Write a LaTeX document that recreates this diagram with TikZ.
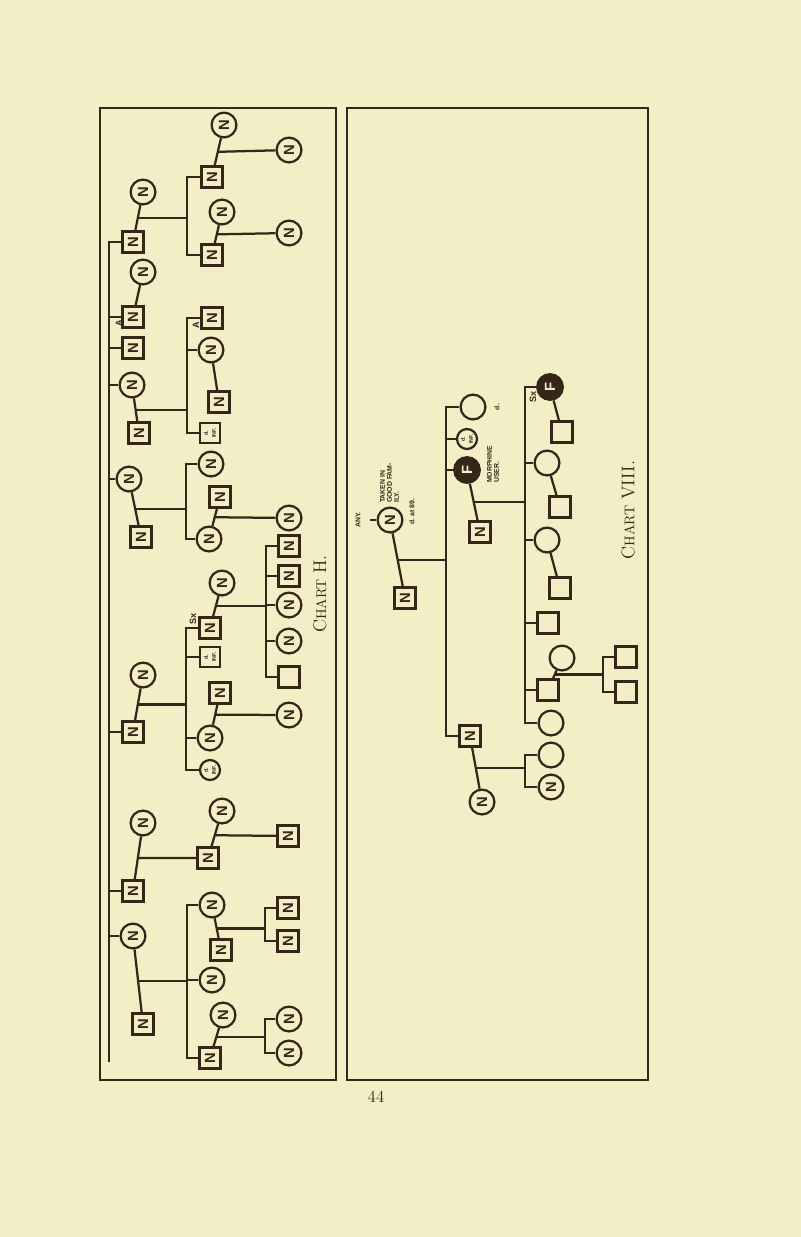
\documentclass[tikz,border=0pt]{standalone}
\usepackage{fontspec}
\setsansfont{Liberation Sans}
\usepackage{graphicx}
\usepackage{tikz}
\definecolor{paper}{HTML}{F2EFC6}
\definecolor{ink}{HTML}{36261A}
\newcommand{\nfont}{\sffamily\bfseries\fontsize{10.5}{10.5}\selectfont}
\newcommand{\tagfont}{\sffamily\bfseries\fontsize{6.5}{6.5}\selectfont}
\newcommand{\notefont}{\sffamily\bfseries\fontsize{4.9}{5}\selectfont}
\newcommand{\inffont}{\sffamily\bfseries\fontsize{3.8}{4}\selectfont}
\newcommand{\titlefont}{\rmfamily\fontsize{13}{13}\selectfont}
\newcommand{\capfont}{\fontsize{10}{10}\selectfont}
\newcommand{\nmark}{\rotatebox{90}{N}}
\newcommand{\fmark}{\rotatebox{90}{F}}
\newcommand{\dinf}{\rotatebox{90}{\shortstack{d.\\INF.}}}

\begin{document}
\begin{tikzpicture}[
    x=0.025cm, y=-0.025cm,
    line width=1.6pt, color=ink,
    male/.style={rectangle, draw, minimum size=0.52cm, inner sep=0pt, font=\nfont},
    female/.style={circle, draw, minimum size=0.62cm, inner sep=0pt, font=\nfont},
    infantf/.style={circle, draw, minimum size=0.5cm, inner sep=0pt, font=\inffont},
    infantm/.style={rectangle, draw, minimum size=0.5cm, inner sep=0pt, font=\inffont},
    affected/.style={circle, draw, fill=ink, text=paper, minimum size=0.64cm, inner sep=0pt, font=\nfont},
    tag/.style={rotate=90, inner sep=0pt, font=\tagfont},
    note/.style={rotate=90, inner sep=0pt, align=left, font=\notefont},
    title/.style={rotate=90, inner sep=0pt, font=\titlefont},
  ]

  % Page
  \fill[paper] (0,0) rectangle (801,1237);
  \draw (100,108) rectangle (336,1080);
  \draw (347,108) rectangle (648,1080);
  \node[font=\rmfamily\fontsize{12}{12}\selectfont] (pnum) at (376,1097) {44};

  % ---------------- Chart H ----------------
  \coordinate (hx) at (109,0);
  \coordinate (hend) at (109,1062);

  % first son and his family
  \node[male] (hA) at (133,242) {\nmark};
  \node[female] (hAw) at (143,192) {\nmark};
  \draw (hAw) -- (hA) coordinate[midway] (hAm);
  \coordinate (hAx) at (187,0);
  \node[male] (hA1) at (212,177) {\nmark};
  \node[female] (hA1w) at (224,125) {\nmark};
  \node[female] (hA1c) at (289,150) {\nmark};
  \draw (hA1w) -- (hA1) coordinate[midway] (hA1m);
  \draw (hA1m) -- (hA1c);
  \node[male] (hA2) at (212,255) {\nmark};
  \node[female] (hA2w) at (222,212) {\nmark};
  \node[female] (hA2c) at (289,233) {\nmark};
  \draw (hA2w) -- (hA2) coordinate[midway] (hA2m);
  \draw (hA2m) -- (hA2c);
  \draw (hAm) -- (hAm -| hAx);
  \draw (hA1) -- (hA1 -| hAx) -- (hA2 -| hAx) -- (hA2);

  % second and third sons
  \node[male] (hB) at (133,317) {\nmark};
  \node[female] (hBw) at (143,272) {\nmark};
  \draw (hBw) -- (hB);
  \node[tag] (hBa) at (119,323) {A};
  \node[male] (hC) at (133,348) {\nmark};

  % daughter and her family
  \node[female] (hD) at (132,385) {\nmark};
  \node[male] (hDh) at (139,433) {\nmark};
  \draw (hD) -- (hDh) coordinate[midway] (hDm);
  \coordinate (hDx) at (187,0);
  \node[male] (hD1) at (212,318) {\nmark};
  \node[tag] (hD1a) at (196,325) {A};
  \node[female] (hD2) at (211,350) {\nmark};
  \node[male] (hD2h) at (219,402) {\nmark};
  \draw (hD2) -- (hD2h);
  \node[infantm] (hD3) at (210,433) {\dinf};
  \draw (hDm) -- (hDm -| hDx);
  \draw (hD1) -- (hD1 -| hDx) -- (hD3 -| hDx) -- (hD3);
  \draw (hD2) -- (hD2 -| hDx);

  % second daughter
  \node[female] (hE) at (129,479) {\nmark};
  \node[male] (hEh) at (141,537) {\nmark};
  \draw (hE) -- (hEh) coordinate[midway] (hEm);
  \coordinate (hEx) at (186,0);
  \node[female] (hE1) at (211,464) {\nmark};
  \node[female] (hE2) at (209,539) {\nmark};
  \node[male] (hE2h) at (220,497) {\nmark};
  \node[female] (hE2c) at (289,518) {\nmark};
  \draw (hE2h) -- (hE2) coordinate[midway] (hE2m);
  \draw (hE2m) -- (hE2c);
  \draw (hEm) -- (hEm -| hEx);
  \draw (hE1) -- (hE1 -| hEx) -- (hE2 -| hEx) -- (hE2);

  % fourth son and his family
  \node[male] (hF) at (133,732) {\nmark};
  \node[female] (hFw) at (143,675) {\nmark};
  \draw (hFw) -- (hF) coordinate[midway] (hFm);
  \coordinate (hFx) at (186,0);
  \node[male] (hF1) at (210,628) {\nmark};
  \node[tag] (hF1s) at (193,619) {Sx};
  \node[female] (hF1w) at (222,583) {\nmark};
  \draw (hF1w) -- (hF1) coordinate[midway] (hF1m);
  \coordinate (hF1x) at (266,0);
  \node[male] (hF1a) at (289,546) {\nmark};
  \node[male] (hF1b) at (289,576) {\nmark};
  \node[female] (hF1c) at (289,605) {\nmark};
  \node[female] (hF1d) at (289,641) {\nmark};
  \node[male] (hF1e) at (289,677) {};
  \draw (hF1m) -- (hF1m -| hF1x);
  \draw (hF1a) -- (hF1a -| hF1x) -- (hF1e -| hF1x) -- (hF1e);
  \foreach \k in {hF1b,hF1c,hF1d}
    \draw (\k) -- (\k -| hF1x);
  \node[infantm] (hF2) at (210,657) {\dinf};
  \node[female] (hF3) at (210,738) {\nmark};
  \node[male] (hF3h) at (220,693) {\nmark};
  \node[female] (hF3c) at (289,715) {\nmark};
  \draw (hF3h) -- (hF3) coordinate[midway] (hF3m);
  \draw (hF3m) -- (hF3c);
  \node[infantf] (hF4) at (210,770) {\dinf};
  \draw (hFm) -- (hFm -| hFx);
  \draw (hF1) -- (hF1 -| hFx) -- (hF4 -| hFx) -- (hF4);
  \foreach \k in {hF2,hF3}
    \draw (\k) -- (\k -| hFx);

  % fifth son
  \node[male] (hG) at (133,891) {\nmark};
  \node[female] (hGw) at (143,823) {\nmark};
  \draw (hGw) -- (hG) coordinate[midway] (hGm);
  \node[male] (hG1) at (208,858) {\nmark};
  \draw (hGm) -- (hG1);
  \node[female] (hG1w) at (222,811) {\nmark};
  \node[male] (hG1c) at (288,836) {\nmark};
  \draw (hG1w) -- (hG1) coordinate[midway] (hG1m);
  \draw (hG1m) -- (hG1c);

  % last daughter
  \node[female] (hI) at (133,936) {\nmark};
  \node[male] (hIh) at (143,1024) {\nmark};
  \draw (hI) -- (hIh) coordinate[midway] (hIm);
  \coordinate (hIx) at (187,0);
  \node[female] (hI1) at (212,905) {\nmark};
  \node[male] (hI1h) at (221,950) {\nmark};
  \draw (hI1) -- (hI1h) coordinate[midway] (hI1m);
  \coordinate (hI1x) at (265,0);
  \node[male] (hI1a) at (288,908) {\nmark};
  \node[male] (hI1b) at (288,941) {\nmark};
  \draw (hI1m) -- (hI1m -| hI1x);
  \draw (hI1a) -- (hI1a -| hI1x) -- (hI1b -| hI1x) -- (hI1b);
  \node[female] (hI2) at (212,980) {\nmark};
  \node[male] (hI3) at (210,1058) {\nmark};
  \node[female] (hI3w) at (223,1015) {\nmark};
  \draw (hI3w) -- (hI3) coordinate[midway] (hI3m);
  \coordinate (hI3x) at (265,0);
  \node[female] (hI3a) at (289,1019) {\nmark};
  \node[female] (hI3b) at (289,1053) {\nmark};
  \draw (hI3m) -- (hI3m -| hI3x);
  \draw (hI3a) -- (hI3a -| hI3x) -- (hI3b -| hI3x) -- (hI3b);
  \draw (hIm) -- (hIm -| hIx);
  \draw (hI1) -- (hI1 -| hIx) -- (hI3 -| hIx) -- (hI3);
  \draw (hI2) -- (hI2 -| hIx);

  % sibship line
  \draw (hA) -- (hA -| hx) -- (hend);
  \foreach \k in {hB,hC,hD,hE,hF,hG,hI}
    \draw (\k) -- (\k -| hx);

  \node[title] (hname) at (320,594) {C{\capfont HART} H.};

  % ---------------- Chart VIII ----------------
  \node[female] (vA) at (390,520) {\nmark};
  \coordinate (vAst) at (370,520);
  \draw (vAst) -- (vA);
  \node[tag, font=\notefont] (vAany) at (358,520) {ANY.};
  \node[note, anchor=north west] (vAnote) at (379,504) {TAKEN IN\\GOOD FAM-\\ILY.};
  \node[note, anchor=west] (vAdied) at (412,526) {d. at 89.};
  \node[male] (vAh) at (405,598) {\nmark};
  \draw (vA) -- (vAh) coordinate[midway] (vAm);
  \coordinate (vx) at (446,0);

  \node[female] (vB1) at (473,407) {};
  \node[tag, font=\notefont] (vB1d) at (497,407) {d.};
  \node[infantf] (vB2) at (467,439) {\dinf};
  \node[affected] (vB3) at (467,470) {\fmark};
  \node[note, anchor=north west] (vB3note) at (486,484) {MORPHINE\\USER.};
  \node[male] (vB3h) at (480,532) {\nmark};
  \draw (vB3) -- (vB3h) coordinate[midway] (vB3m);
  \node[male] (vB4) at (470,736) {\nmark};
  \node[female] (vB4w) at (482,802) {\nmark};
  \draw (vB4) -- (vB4w) coordinate[midway] (vB4m);
  \draw (vAm) -- (vAm -| vx);
  \draw (vB1) -- (vB1 -| vx) -- (vB4 -| vx) -- (vB4);
  \foreach \k in {vB2,vB3}
    \draw (\k) -- (\k -| vx);

  % children of the morphine user
  \coordinate (vCx) at (525,0);
  \node[affected] (vC1) at (550,387) {\fmark};
  \node[tag] (vC1s) at (533,397) {Sx};
  \node[male] (vC1h) at (562,432) {};
  \draw (vC1) -- (vC1h);
  \node[female] (vC2) at (547,463) {};
  \node[male] (vC2h) at (560,507) {};
  \draw (vC2) -- (vC2h);
  \node[female] (vC3) at (547,540) {};
  \node[male] (vC3h) at (560,588) {};
  \draw (vC3) -- (vC3h);
  \node[male] (vC4) at (548,623) {};
  \node[male] (vC5) at (548,690) {};
  \node[female] (vC5w) at (562,658) {};
  \draw (vC5w) -- (vC5) coordinate[midway] (vC5m);
  \coordinate (vC5x) at (603,0);
  \node[male] (vC5a) at (626,657) {};
  \node[male] (vC5b) at (626,692) {};
  \draw (vC5m) -- (vC5m -| vC5x);
  \draw (vC5a) -- (vC5a -| vC5x) -- (vC5b -| vC5x) -- (vC5b);
  \node[female] (vC6) at (551,723) {};
  \draw (vB3m) -- (vB3m -| vCx);
  \draw (vC1) -- (vC1 -| vCx) -- (vC6 -| vCx) -- (vC6);
  \foreach \k in {vC2,vC3,vC4,vC5}
    \draw (\k) -- (\k -| vCx);

  % children of the last son
  \coordinate (vDx) at (525,0);
  \node[female] (vD1) at (551,755) {};
  \node[female] (vD2) at (551,787) {\nmark};
  \draw (vB4m) -- (vB4m -| vDx);
  \draw (vD1) -- (vD1 -| vDx) -- (vD2 -| vDx) -- (vD2);

  \node[title] (vname) at (628,510) {C{\capfont HART} VIII.};

\end{tikzpicture}
\end{document}
